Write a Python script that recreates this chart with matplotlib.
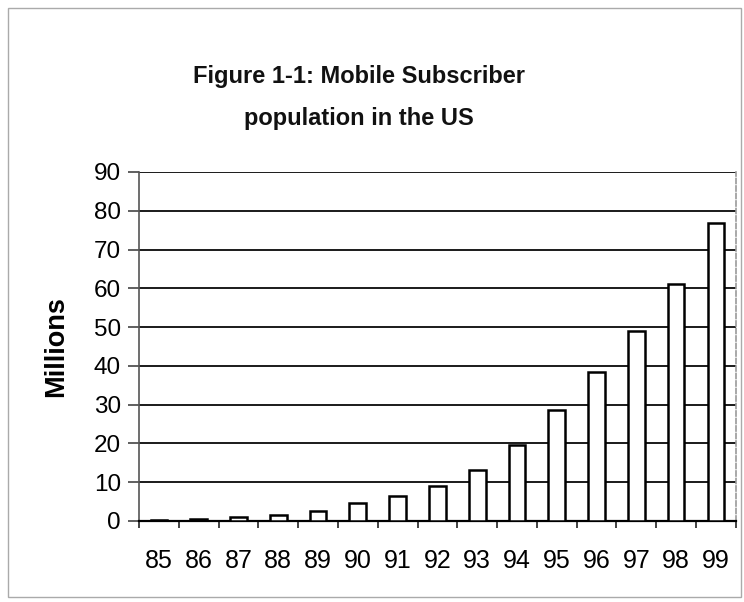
import matplotlib
matplotlib.use("Agg")
import matplotlib.pyplot as plt
from matplotlib.patches import Rectangle
import numpy as np

plt.rcParams['font.family'] = ['Liberation Sans', 'DejaVu Sans']

years = ["85", "86", "87", "88", "89", "90", "91", "92", "93", "94", "95", "96", "97", "98", "99"]
subscribers = [0.3, 0.5, 0.9, 1.5, 2.6, 4.6, 6.5, 9.1, 13.2, 19.6, 28.6, 38.5, 49.0, 61.0, 76.9]
y_ticks = [0, 10, 20, 30, 40, 50, 60, 70, 80, 90]

fig = plt.figure(figsize=(7.44, 6.02), dpi=100)
ax = fig.add_axes([0.1868, 0.1346, 0.8022, 0.5797])

x = np.arange(len(years))
ax.bar(x, subscribers, width=0.42, color="white", edgecolor="black", linewidth=1.8, zorder=3)

ax.set_xlim(-0.5, len(years) - 0.5)
ax.set_ylim(0, 90)
ax.set_yticks(y_ticks)
ax.set_yticklabels([str(v) for v in y_ticks], fontsize=17.5)
ax.set_xticks(x)
ax.set_xticklabels(years, fontsize=18)
ax.set_xticks(np.arange(len(years) + 1) - 0.5, minor=True)

ax.tick_params(axis="x", which="major", length=0, pad=20)
ax.tick_params(axis="x", which="minor", length=5, width=1.2, direction="out", color="#222222")
ax.tick_params(axis="y", length=8, width=1.2, direction="out", color="#444444", pad=5)

for v in y_ticks[1:]:
    ax.axhline(v, color="#1a1a1a", linewidth=1.4, zorder=1)

ax.spines["left"].set_color("#555555")
ax.spines["left"].set_linewidth(1.2)
ax.spines["bottom"].set_color("black")
ax.spines["bottom"].set_linewidth(1.6)
ax.spines["top"].set_visible(False)
ax.spines["right"].set_color("#999999")
ax.spines["right"].set_linestyle((0, (3, 1.5)))
ax.spines["right"].set_linewidth(1.2)

ax.set_ylabel("Millions", fontsize=19.5, fontweight="bold", labelpad=18)

fig.text(0.483, 0.838, "Figure 1-1: Mobile Subscriber\npopulation in the US",
         ha="center", va="center", fontsize=17, fontweight="bold",
         linespacing=2.05, color="#111111")

# outer chart frame
fig.add_artist(Rectangle((0.011, 0.008), 0.985, 0.979, transform=fig.transFigure,
                         fill=False, edgecolor="#aaaaaa", linewidth=1.0))

fig.savefig("out.png", dpi=100)
